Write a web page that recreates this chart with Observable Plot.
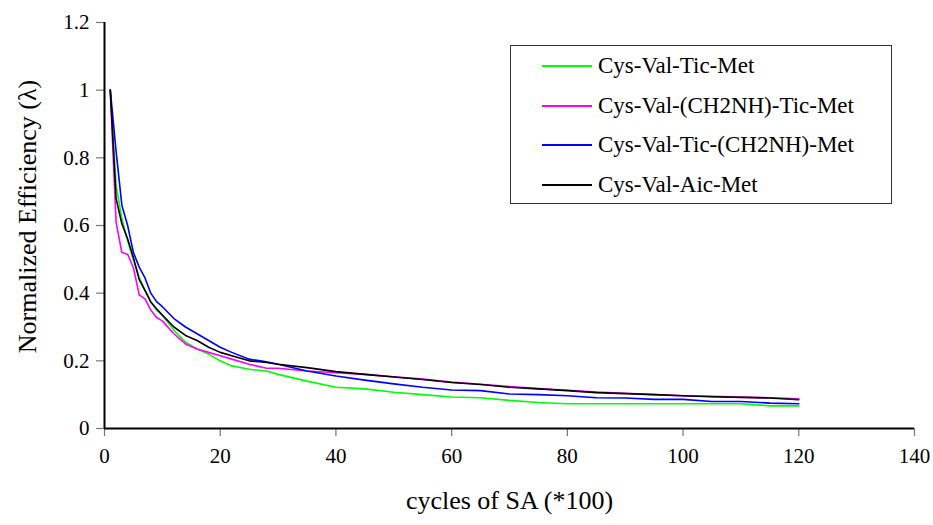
<!DOCTYPE html>
<html>
<head>
<meta charset="utf-8">
<script src="https://cdn.jsdelivr.net/npm/d3@7"></script>
<script src="https://cdn.jsdelivr.net/npm/@observablehq/plot@0.6"></script>
<style>
  html, body { margin: 0; padding: 0; background: #fff; }
  #wrap { position: relative; width: 933px; height: 525px; font-family: "Liberation Serif", Tinos, "Times New Roman", "DejaVu Serif", serif; }
  #wrap svg text { font-family: "Liberation Serif", Tinos, "Times New Roman", "DejaVu Serif", serif; }
  #legend { position: absolute; left: 510px; top: 45px; width: 382px; height: 159px; border: 1.5px solid #333; box-sizing: border-box; background: #fff; }
  .row { position: absolute; left: 0; height: 30px; display: flex; align-items: center; font-size: 23px; color: #000; white-space: nowrap; }
  .row svg { margin-left: 31px; margin-right: 6px; }
</style>
</head>
<body>
<div id="wrap"></div>
<script>
const seriesNames = ["Cys-Val-Tic-Met", "Cys-Val-(CH2NH)-Tic-Met", "Cys-Val-Tic-(CH2NH)-Met", "Cys-Val-Aic-Met"];
const seriesColors = ["#00ff00", "#ff00ff", "#0000ff", "#000000"];
const xs = [1,2,3,4,5,6,7,8,9,10,12,14,16,18,20,22,25,28,30,35,40,45,50,55,60,65,70,75,80,85,90,95,100,105,110,115,120];
const tic = [1,0.72,0.62,0.555,0.497,0.447,0.408,0.374,0.35,0.335,0.29,0.255,0.235,0.22,0.20,0.185,0.175,0.17,0.16,0.14,0.122,0.117,0.107,0.10,0.093,0.091,0.083,0.077,0.073,0.073,0.073,0.073,0.073,0.073,0.073,0.067,0.067];
const ch2nhTic = [1,0.61,0.52,0.515,0.475,0.395,0.383,0.35,0.328,0.318,0.28,0.25,0.235,0.225,0.215,0.205,0.19,0.178,0.178,0.17,0.165,0.16,0.153,0.146,0.137,0.131,0.124,0.118,0.113,0.108,0.104,0.10,0.097,0.095,0.093,0.091,0.088];
const ticCh2nh = [1,0.82,0.66,0.6,0.52,0.477,0.445,0.4,0.375,0.36,0.325,0.30,0.28,0.26,0.24,0.225,0.205,0.197,0.19,0.17,0.155,0.143,0.132,0.122,0.114,0.112,0.102,0.10,0.097,0.091,0.09,0.086,0.086,0.08,0.08,0.075,0.073];
const aic = [1,0.68,0.605,0.56,0.505,0.44,0.408,0.374,0.354,0.335,0.30,0.275,0.26,0.24,0.225,0.215,0.20,0.195,0.19,0.18,0.168,0.16,0.152,0.145,0.136,0.13,0.122,0.117,0.112,0.106,0.103,0.10,0.097,0.094,0.092,0.09,0.085];
const seriesValues = [tic, ch2nhTic, ticCh2nh, aic];
const xTicks = [0,20,40,60,80,100,120,140];
const yTicks = [0,0.2,0.4,0.6,0.8,1,1.2];
const xTitle = "cycles of SA (*100)";
const yTitle = "Normalized Efficiency (λ)";

const rows = [];
seriesNames.forEach((name, i) => {
  xs.forEach((x, j) => rows.push({series: name, x, y: seriesValues[i][j]}));
});

const serif = "'Liberation Serif', Tinos, 'Times New Roman', 'DejaVu Serif', serif";

const chart = Plot.plot({
  width: 933,
  height: 525,
  marginLeft: 104,
  marginRight: 19,
  marginTop: 22,
  marginBottom: 97,
  style: {fontFamily: serif, fontSize: "21px", color: "#000", background: "#fff"},
  x: {domain: [0, 140]},
  y: {domain: [0, 1.2]},
  color: {domain: seriesNames, range: seriesColors},
  marks: [
    Plot.axisY({ticks: yTicks, tickSize: 8, tickPadding: 7, tickFormat: d => String(+d.toFixed(1)), label: null, fontSize: 21, stroke: "#777", strokeWidth: 1.2}),
    Plot.axisX({ticks: xTicks, tickSize: 8, tickPadding: 12, label: null, fontSize: 21, stroke: "#777", strokeWidth: 1.2}),
    Plot.line(rows, {x: "x", y: "y", z: "series", stroke: "series", strokeWidth: 1.6}),
    Plot.ruleX([0], {stroke: "#000", strokeWidth: 2}),
    Plot.ruleY([0], {stroke: "#000", strokeWidth: 2}),
    Plot.text([xTitle], {frameAnchor: "bottom", dy: 72, fontSize: 26, lineAnchor: "middle", textAnchor: "middle", fill: "#000"}),
    Plot.text([yTitle], {frameAnchor: "left", dx: -77, dy: -9, rotate: -90, fontSize: 26, lineAnchor: "middle", textAnchor: "middle", fill: "#000"})
  ]
});

const wrap = document.getElementById("wrap");
wrap.appendChild(chart);

const legend = document.createElement("div");
legend.id = "legend";
seriesNames.forEach((name, i) => {
  const row = document.createElement("div");
  row.className = "row";
  row.style.top = (5 + i * 39.5) + "px";
  row.innerHTML = `<svg width="50" height="4"><line x1="0" x2="50" y1="2" y2="2" stroke="${seriesColors[i]}" stroke-width="2"/></svg><span>${name}</span>`;
  legend.appendChild(row);
});
wrap.appendChild(legend);
</script>
</body>
</html>
